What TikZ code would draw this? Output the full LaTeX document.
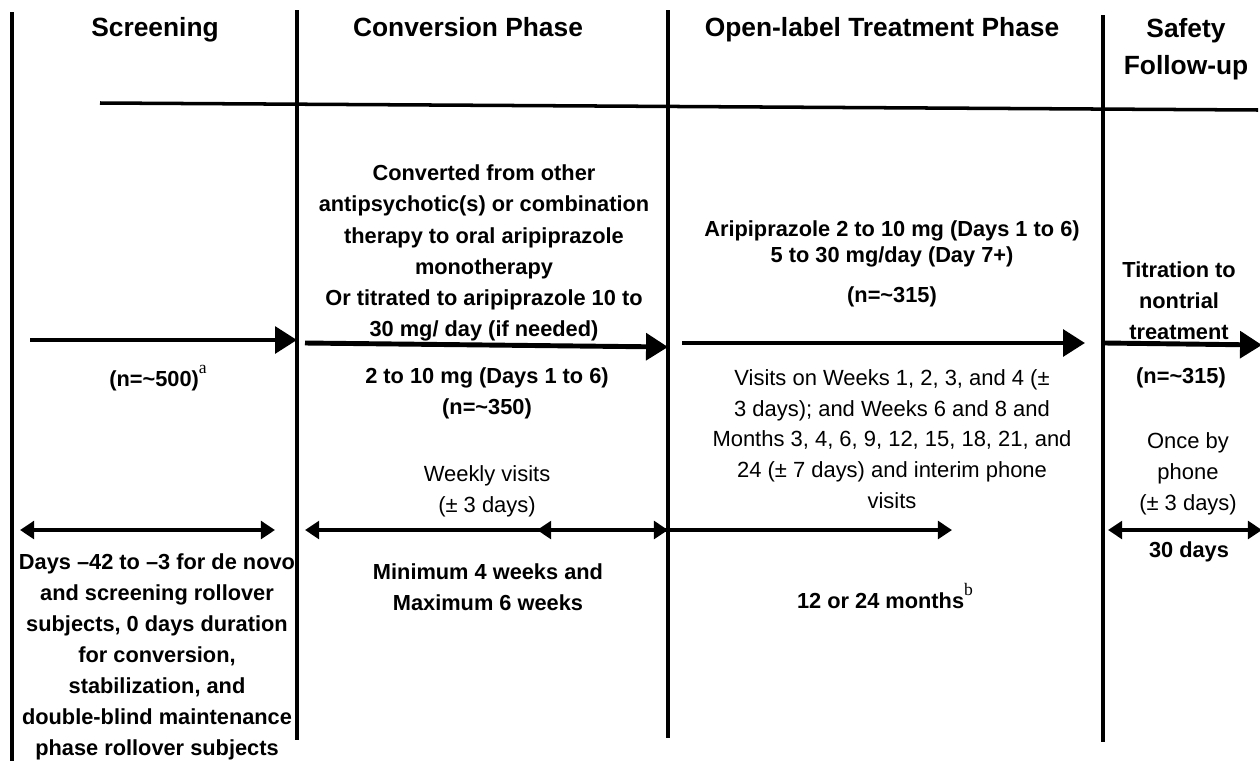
\documentclass[tikz,border=0pt]{standalone}
\usepackage{fontspec}
\setmainfont{Liberation Sans}
\newfontfamily\notefont{Liberation Serif}
\usetikzlibrary{arrows.meta}
\newcommand{\fnmark}[1]{\raisebox{1.1ex}{\notefont\mdseries\normalsize #1}}

\tikzset{
  phase/.style={font=\bfseries\fontsize{15}{21}\selectfont, align=center, inner sep=0pt},
  info/.style={font=\bfseries\fontsize{12.4}{17.7}\selectfont, align=center, inner sep=0pt},
  visit/.style={font=\fontsize{12.5}{17.5}\selectfont, align=center, inner sep=0pt},
  divider/.style={line width=2pt},
  flow/.style={line width=2.8pt, -{Triangle[length=12.5pt,width=15pt]}},
  spanboth/.style={line width=2.1pt, {Triangle[length=8pt,width=10pt]}-{Triangle[length=8pt,width=10pt]}},
  spanone/.style={line width=2.1pt, -{Triangle[length=8pt,width=10pt]}},
}

\begin{document}
\begin{tikzpicture}[x=0.02cm,y=-0.02cm]
      \useasboundingbox (0,0) rectangle (1260,761);

      % dividers
      \foreach \n/\x/\ya/\yb in {a/12/12/761, b/297/10/740, c/668/10/738, d/1103/15/742}
      { \path (\x,\ya) coordinate (top\n) (\x,\yb) coordinate (bot\n); \draw[divider] (top\n) -- (bot\n); }
      \path (100,103) coordinate (ruleL) (1258,110) coordinate (ruleR);
      \draw[divider] (ruleL) -- (ruleR);

      % headers
      \node[phase, anchor=base] (hScr) at (155,36) {Screening};
      \node[phase, anchor=base] (hConv) at (468,36) {Conversion Phase};
      \node[phase, anchor=base] (hOpen) at (882,36) {Open-label Treatment Phase};
      \node[phase] (hSafe) at (1186,49) {Safety\\Follow-up};

      % main arrows
      \path (30,340) coordinate (s1) (297,340) coordinate (e1)
            (305,343) coordinate (s2) (668,347) coordinate (e2)
            (682,343) coordinate (s3) (1085,343) coordinate (e3)
            (1105,343) coordinate (s4) (1262,345) coordinate (e4);
      \foreach \j in {1,...,4} { \draw[flow] (s\j) -- (e\j); }

      % duration arrows
      \path (20,530) coordinate (w1a) (275,530) coordinate (w1b)
            (305,530) coordinate (w2a) (668,530) coordinate (w2b) (537,530) coordinate (w2m)
            (668,530) coordinate (w3a) (952,530) coordinate (w3b)
            (1108,530) coordinate (w4a) (1262,530) coordinate (w4b);
      \draw[spanboth] (w1a) -- (w1b);
      \draw[spanboth] (w2a) -- (w2b);
      \draw[spanone] (w2b) -- (w2m);
      \draw[spanone] (w3a) -- (w3b);
      \draw[spanboth] (w4a) -- (w4b);

      % screening
      \node[info] (scrN) at (158,378) {(n=\textasciitilde500)\fnmark{a}};
      \node[info] (scrDur) at (157,657) {Days –42 to –3 for de novo\\and screening rollover\\subjects, 0 days duration\\for conversion,\\stabilization, and\\double-blind maintenance\\phase rollover subjects};

      % conversion
      \node[info] (convText) at (484,253) {Converted from other\\antipsychotic(s) or combination\\therapy to oral aripiprazole\\monotherapy\\Or titrated to aripiprazole 10 to\\30 mg/ day (if needed)};
      \node[info] (convDose) at (487,393) {2 to 10 mg (Days 1 to 6)\\(n=\textasciitilde350)};
      \node[visit] (convVisits) at (487,491) {Weekly visits\\(± 3 days)};
      \node[info] (convDur) at (488,587) {Minimum 4 weeks and\\Maximum 6 weeks};

      % open-label
      \node[info, font=\bfseries\fontsize{12.4}{14.5}\selectfont] (openDose) at (892,244) {Aripiprazole 2 to 10 mg (Days 1 to 6)\\5 to 30 mg/day (Day 7+)};
      \node[info] (openN) at (892,297) {(n=\textasciitilde315)};
      \node[visit] (openVisits) at (892,439) {Visits on Weeks 1, 2, 3, and 4 (±\\3 days); and Weeks 6 and 8 and\\Months 3, 4, 6, 9, 12, 15, 18, 21, and\\24 (± 7 days) and interim phone\\visits};
      \node[info] (openDur) at (885,596) {12 or 24 months\fnmark{b}};

      % safety
      \node[info] (safeTitr) at (1179,301) {Titration to\\nontrial\\treatment};
      \node[info] (safeN) at (1181,378) {(n=\textasciitilde315)};
      \node[visit] (safePhone) at (1188,474) {Once by\\phone\\(± 3 days)};
      \node[info] (safeDur) at (1189,552) {30 days};
    \end{tikzpicture}
\end{document}
